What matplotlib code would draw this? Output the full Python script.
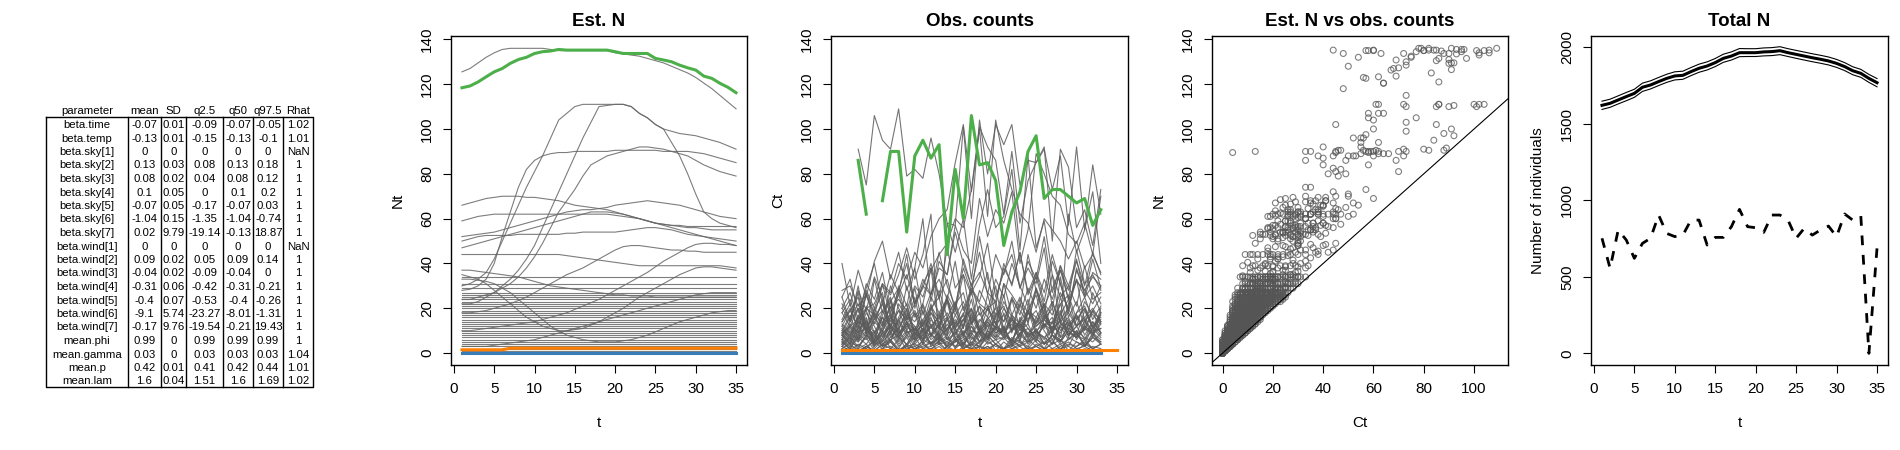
import numpy as np
import matplotlib
matplotlib.use('Agg')
import matplotlib.pyplot as plt

plt.rcParams['font.family'] = ['Liberation Sans', 'DejaVu Sans']
nan = np.nan

# ---- parameter table ----
params = ['beta.time', 'beta.temp', 'beta.sky[1]', 'beta.sky[2]', 'beta.sky[3]', 'beta.sky[4]',
          'beta.sky[5]', 'beta.sky[6]', 'beta.sky[7]', 'beta.wind[1]', 'beta.wind[2]', 'beta.wind[3]',
          'beta.wind[4]', 'beta.wind[5]', 'beta.wind[6]', 'beta.wind[7]', 'mean.phi', 'mean.gamma',
          'mean.p', 'mean.lam']
p_mean = [-0.07, -0.13, 0, 0.13, 0.08, 0.1, -0.07, -1.04, 0.02, 0, 0.09, -0.04, -0.31, -0.4, -9.1, -0.17, 0.99, 0.03, 0.42, 1.6]
p_sd = [0.01, 0.01, 0, 0.03, 0.02, 0.05, 0.05, 0.15, 9.79, 0, 0.02, 0.02, 0.06, 0.07, 5.74, 9.76, 0, 0, 0.01, 0.04]
p_q025 = [-0.09, -0.15, 0, 0.08, 0.04, 0, -0.17, -1.35, -19.14, 0, 0.05, -0.09, -0.42, -0.53, -23.27, -19.54, 0.99, 0.03, 0.41, 1.51]
p_q50 = [-0.07, -0.13, 0, 0.13, 0.08, 0.1, -0.07, -1.04, -0.13, 0, 0.09, -0.04, -0.31, -0.4, -8.01, -0.21, 0.99, 0.03, 0.42, 1.6]
p_q975 = [-0.05, -0.1, 0, 0.18, 0.12, 0.2, 0.03, -0.74, 18.87, 0, 0.14, 0, -0.21, -0.26, -1.31, 19.43, 0.99, 0.03, 0.44, 1.69]
p_rhat = [1.02, 1.01, nan, 1, 1, 1, 1, 1, 1, nan, 1, 1, 1, 1, 1, 1, 1, 1.04, 1.01, 1.02]
tab_header = ['parameter', 'mean', 'SD', 'q2.5', 'q50', 'q97.5', 'Rhat']

# ---- site trajectories: estimated N (t=1..35) and observed counts C (t=1..33) ----
t_N = np.arange(1, 36)

green_N = [118.4, 119.2, 121, 123.3, 125.5, 127, 129.3, 131, 132, 133.7, 134.5, 134.8, 135.5, 135.2, 135.2, 135.2, 135.2, 135.2,
           135.2, 134.5, 133.7, 133.7, 133.7, 133.7, 131.5, 130.8, 130, 128.5, 127.3, 126.3, 123.6, 122.6, 120.4, 118.6, 116.2]
green_C = [nan, nan, 86, 62, nan, 68, 90, 90, 54, 88, 95, 87, 93, 44, 82, 60, 106, 84, 85, 77, 48, 63, 72, 90, 97, 69, 73, 73, 70, 67, 69, 57, 64]
blue_N = [0] * 35
blue_C = [0] * 33
orange_N = [1.5] * 6 + [2.2] * 29
orange_C = [1.2] * 35

curved_N = [
    [125.5, 127, 129.5, 132, 134, 135.5, 136, 136, 136, 136, 136, 135.5, 135, 135, 135, 135, 135, 135, 135, 134, 133.5, 133, 132.5, 131.5, 130.5, 129.5, 128, 126.5, 125, 123, 120.5, 118, 115, 112, 109],
    [30, 31, 33, 36, 42, 50, 58, 66, 74, 81, 88, 96, 104, 107, 110, 111, 111, 111, 111, 111, 111, 110, 107, 105, 102, 100, 94, 88, 80, 71, 63, 60, 58, 57, 56],
    [22, 22, 23, 25, 27, 30, 33, 37, 42, 48, 56, 64, 72, 80, 88, 96, 103, 110, 110.5, 111, 111, 110, 107, 105, 102, 100, 99, 98, 97.5, 97, 96, 95, 94, 92.5, 91],
    [28, 28.5, 30, 33, 40, 52, 63, 74, 82, 86, 88, 89, 89.5, 89.5, 90, 90, 90, 90, 90, 90.5, 90.5, 90.5, 90.5, 90.5, 90.5, 90, 90, 90, 90, 89.5, 89, 88, 87, 86, 85],
    [24, 24, 25, 26, 27, 29, 31, 34, 38, 43, 49, 56, 63, 68, 73, 79, 84, 86, 88, 89, 90, 91, 92, 92, 91.5, 91, 90, 89, 88, 86, 84, 82.5, 81, 80, 79],
    [66, 67, 68, 69, 69.5, 70, 70, 70, 69.5, 69.5, 69, 68.5, 68, 67, 66, 65.5, 65, 64.5, 64, 63, 62, 61, 60, 59, 58, 57.5, 57, 57, 56.5, 56.5, 56.5, 56.5, 56.5, 56.5, 56.5],
    [59, 60, 61, 61.5, 62, 62, 62, 62, 62, 62, 62, 62, 62, 62, 62, 62, 62, 62, 62, 61.5, 61, 60.5, 60, 59, 58, 57.5, 57, 56.5, 56, 56, 55.5, 55, 55, 55, 55],
    [52, 52.5, 53, 53.5, 54, 55, 56, 57, 58, 59, 60, 61, 62, 63, 63.5, 64, 64, 64.5, 65, 66, 66.5, 67, 67.5, 68, 67.5, 67, 66.5, 66, 65, 64, 63, 62, 61, 60.5, 60],
    [50, 51, 52, 52.5, 52.5, 52.5, 52.5, 53, 53, 53, 53, 53, 53, 53.5, 53.5, 54, 54, 54, 54, 54, 54.5, 55, 55.5, 56, 56, 55.5, 55, 54, 53, 52.5, 52, 51.5, 51, 50.5, 50],
    [47, 48, 49, 50, 51, 52, 53, 54, 55, 56, 57, 58, 59, 60, 61, 62, 63, 63, 63, 62.5, 62, 61, 60, 59, 58, 57, 56, 55, 54, 53, 52, 51, 50, 49, 48],
    [44, 44, 44, 44, 44, 44, 44, 44, 44, 44, 44, 44, 44, 43.5, 43, 42.5, 42, 41.5, 41, 40.5, 40, 39.5, 39, 39, 39, 39, 39, 39, 39, 39, 39, 39, 39, 38.5, 38],
    [37, 37, 36.5, 36, 35.5, 35, 34.5, 34, 33, 32, 31, 30, 29.5, 29, 28.5, 28, 27.5, 27, 26.5, 26, 26, 25.5, 25.5, 25.5, 25, 25, 25, 25, 25, 25, 25, 25, 25, 25, 25],
    [35, 34, 33, 31, 28, 25, 22, 19, 16, 14, 12, 11, 10, 10, 10.5, 11, 12.5, 14, 16, 18, 20, 22.5, 25, 27, 29, 31, 33, 35, 36.5, 38, 38.5, 38.5, 38, 37.5, 37],
    [18, 18, 18.5, 19, 20, 21, 22, 23.5, 25, 27, 29, 31, 33, 35, 36.5, 38, 40, 42, 44, 46, 47.5, 48, 48, 47.5, 47, 46.5, 46, 46, 45.5, 45.5, 45, 45, 45, 45, 45],
    [10, 10, 10.5, 11, 11.5, 12, 12.5, 13, 13.5, 14, 15, 16, 17, 18, 19.5, 21, 22.5, 24, 26, 28, 30, 32, 34, 36, 38.5, 41, 43, 45, 47, 48.5, 49, 49, 48.5, 48.5, 48],
    [33, 33, 32.5, 32, 31, 29, 27, 24, 21, 18, 15, 12, 10, 8, 7, 6, 5.5, 5, 5, 5, 5.5, 6, 7, 8, 9.5, 11, 12.5, 14, 15, 16, 17, 18, 18.5, 19, 19],
    [3, 3, 3, 3, 3.5, 4, 4.5, 5, 5.5, 6, 7, 8, 9, 10, 11, 12, 13, 14, 15, 16, 17, 18, 19, 20, 21, 22, 23, 24, 25, 26, 26.5, 27, 27, 27, 27],
]
curved_C = [
    [nan, nan, 91, 75, 106, 95, 91, 109, 79, 82, 78, 96, 80, 58, 57, 101, 60, 104, 80, 102, 93, 102, 75, 86, 85, 92, 50, 91, 83, 56, 64, 48, 73],
    [14, 19, 12, 20, 22, 31, 27, 40, 33, 45, 38, 52, 60, 64, 85, 102, 72, 100, 61, 104, 86, 73, 62, 58, 45, 60, 55, 50, 42, 50, 38, 44, 36],
    [9, 12, 15, 10, 18, 13, 20, 24, 19, 30, 25, 37, 44, 49, 60, 56, 73, 101, 92, 86, 62, 90, 58, 77, 85, 91, 73, 88, 57, 92, 55, 84, 62],
    [13, 9, 16, 20, 17, 30, 26, 35, 47, 33, 44, 62, 4, 58, 45, 60, 33, 57, 73, 56, 61, 82, 46, 88, 47, 59, 35, 13, 62, 45, 55, 72, 40],
    [10, 8, 14, 11, 6, 16, 12, 19, 15, 22, 30, 26, 38, 35, 57, 46, 40, 69, 52, 64, 58, 72, 40, 55, 89, 80, 70, 66, 53, 49, 58, 44, 70],
    [40, 21, 37, 25, 41, 50, 33, 45, 28, 38, 60, 23, 41, 35, 54, 40, 30, 45, 26, 44, 35, 50, 29, 38, 31, 47, 20, 39, 30, 42, 25, 36, 33],
    [25, 33, 18, 29, 40, 22, 35, 27, 44, 20, 31, 38, 24, 47, 29, 35, 26, 52, 33, 21, 40, 30, 45, 27, 36, 23, 41, 31, 19, 37, 28, 34, 30],
    [20, 27, 15, 31, 24, 36, 18, 28, 40, 22, 33, 26, 45, 30, 21, 38, 27, 34, 49, 25, 36, 44, 29, 41, 33, 52, 27, 39, 24, 46, 31, 35, 28],
    [22, 15, 28, 19, 34, 25, 12, 30, 21, 38, 17, 27, 33, 24, 41, 19, 29, 23, 36, 15, 31, 26, 20, 44, 28, 18, 35, 25, 30, 21, 39, 24, 27],
    [18, 24, 13, 28, 20, 31, 16, 26, 35, 22, 29, 40, 25, 33, 19, 42, 30, 36, 27, 23, 38, 31, 45, 26, 34, 21, 29, 37, 24, 32, 28, 22, 30],
    [20, 14, 27, 9, 33, 18, 24, 12, 30, 16, 22, 38, 11, 26, 19, 35, 14, 28, 21, 10, 31, 17, 25, 13, 29, 20, 8, 34, 16, 23, 12, 27, 18],
    [25, 14, 30, 11, 19, 27, 8, 22, 16, 29, 12, 20, 25, 9, 17, 23, 13, 21, 7, 18, 14, 24, 11, 19, 16, 22, 9, 15, 20, 12, 23, 17, 13],
    [28, 30, 21, 26, 15, 19, 12, 9, 13, 6, 8, 4, 7, 3, 5, 8, 4, 10, 7, 12, 9, 15, 11, 18, 14, 22, 17, 27, 20, 33, 25, 30, 22],
    [8, 12, 5, 14, 9, 16, 7, 11, 18, 10, 15, 20, 13, 24, 17, 11, 28, 22, 19, 33, 25, 40, 30, 21, 36, 27, 44, 31, 18, 38, 26, 42, 29],
    [4, 7, 3, 8, 5, 9, 2, 6, 10, 4, 8, 12, 7, 11, 15, 9, 13, 18, 10, 21, 14, 25, 17, 29, 20, 33, 24, 37, 28, 41, 30, 45, 35],
    [18, 12, 20, 9, 15, 22, 11, 14, 8, 12, 6, 9, 4, 5, 3, 4, 2, 3, 1, 4, 2, 3, 5, 2, 6, 4, 8, 5, 10, 7, 12, 9, 11],
    [1, 2, 0, 3, 1, 2, 3, 1, 4, 2, 3, 5, 4, 7, 3, 6, 9, 5, 8, 11, 7, 10, 13, 9, 12, 15, 11, 14, 18, 12, 16, 20, 14],
]

# sites whose estimated N stays flat
flat_levels = [34, 31, 29, 27, 26, 25, 24, 23, 22, 21, 20, 19, 18, 17, 16, 15, 14, 13, 12, 11, 10, 9, 8, 7, 6, 5, 4, 3, 2, 1]
flat_C = [
    [15, 22, 9, 27, 18, 12, 30, 20, 14, 25, 8, 19, 28, 16, 23, 11, 31, 17, 21, 13, 26, 10, 24, 18, 29, 15, 20, 7, 22, 33, 14, 19, 25],
    [14, 20, 11, 26, 17, 9, 23, 29, 15, 19, 12, 25, 18, 8, 22, 27, 13, 21, 16, 30, 10, 24, 19, 14, 28, 17, 11, 22, 26, 15, 20, 12, 18],
    [12, 19, 25, 8, 16, 22, 14, 27, 10, 18, 6, 21, 15, 24, 11, 17, 28, 9, 20, 13, 23, 16, 8, 19, 26, 12, 14, 22, 10, 18, 25, 15, 21],
    [9, 16, 22, 13, 7, 19, 25, 11, 17, 14, 21, 8, 18, 24, 12, 15, 20, 10, 26, 13, 17, 9, 22, 15, 19, 11, 23, 14, 8, 18, 21, 12, 16],
    [10, 17, 6, 21, 13, 24, 9, 15, 19, 7, 22, 12, 16, 25, 11, 18, 8, 14, 20, 23, 10, 16, 5, 19, 13, 21, 9, 17, 24, 12, 15, 7, 18],
    [8, 14, 20, 11, 5, 17, 23, 9, 13, 18, 10, 22, 6, 15, 19, 12, 24, 8, 16, 11, 20, 14, 7, 21, 13, 17, 9, 25, 12, 16, 10, 19, 14],
    [12, 7, 17, 10, 20, 14, 5, 16, 22, 9, 13, 18, 11, 23, 8, 15, 19, 12, 6, 17, 21, 10, 14, 24, 9, 16, 13, 19, 7, 15, 20, 11, 17],
    [11, 6, 15, 19, 9, 13, 21, 8, 16, 12, 4, 18, 14, 10, 22, 7, 17, 11, 15, 20, 9, 13, 6, 18, 12, 16, 23, 10, 14, 8, 19, 11, 15],
    [7, 13, 9, 18, 12, 5, 16, 10, 20, 8, 14, 11, 17, 6, 13, 21, 9, 15, 12, 7, 18, 10, 14, 19, 8, 12, 16, 5, 13, 17, 11, 9, 20],
    [6, 12, 9, 16, 4, 11, 18, 8, 14, 10, 19, 7, 13, 16, 5, 12, 20, 9, 15, 11, 8, 17, 13, 6, 14, 18, 10, 12, 16, 7, 11, 19, 9],
    [9, 5, 14, 11, 17, 7, 12, 19, 10, 6, 15, 8, 13, 18, 11, 4, 16, 9, 12, 14, 7, 17, 10, 13, 5, 15, 11, 18, 8, 12, 16, 9, 14],
    [6, 11, 8, 15, 4, 12, 17, 9, 13, 7, 10, 16, 5, 11, 14, 8, 18, 10, 6, 13, 9, 15, 12, 7, 16, 10, 4, 13, 11, 17, 8, 14, 9],
    [8, 4, 11, 14, 6, 10, 16, 7, 12, 9, 5, 15, 11, 8, 13, 17, 6, 10, 14, 9, 12, 4, 16, 11, 7, 13, 10, 15, 8, 12, 6, 14, 9],
    [8, 4, 12, 7, 14, 10, 5, 15, 9, 11, 6, 13, 8, 16, 10, 3, 12, 7, 14, 9, 11, 5, 15, 8, 10, 13, 6, 12, 9, 7, 14, 10, 11],
    [5, 10, 7, 13, 3, 9, 12, 6, 14, 8, 11, 4, 10, 15, 7, 9, 12, 5, 13, 8, 6, 11, 14, 7, 10, 4, 12, 9, 15, 6, 11, 8, 13],
    [4, 9, 6, 12, 8, 3, 11, 7, 14, 5, 10, 8, 13, 6, 9, 15, 4, 11, 7, 12, 9, 5, 13, 8, 10, 6, 14, 7, 11, 9, 4, 12, 8],
    [6, 3, 9, 11, 5, 8, 13, 7, 4, 10, 12, 6, 9, 3, 11, 8, 14, 5, 10, 7, 12, 4, 9, 11, 6, 13, 8, 5, 10, 7, 12, 9, 6],
    [4, 8, 6, 10, 3, 7, 12, 5, 9, 11, 4, 8, 6, 13, 7, 3, 10, 9, 5, 12, 8, 6, 11, 4, 9, 7, 10, 5, 13, 8, 6, 11, 7],
    [5, 2, 8, 6, 10, 4, 7, 11, 3, 9, 6, 12, 5, 8, 2, 10, 7, 4, 9, 6, 11, 3, 8, 5, 10, 7, 4, 12, 6, 9, 3, 8, 5],
    [3, 7, 5, 9, 2, 6, 10, 4, 8, 6, 11, 3, 7, 5, 9, 4, 8, 2, 10, 6, 7, 3, 9, 5, 11, 4, 8, 6, 3, 10, 7, 5, 9],
    [5, 2, 7, 4, 9, 3, 6, 8, 1, 5, 10, 4, 7, 3, 6, 9, 2, 5, 8, 4, 7, 6, 3, 9, 5, 2, 8, 4, 6, 10, 3, 7, 5],
    [3, 6, 2, 8, 4, 5, 9, 3, 7, 1, 6, 4, 8, 2, 5, 7, 3, 9, 4, 6, 2, 7, 5, 3, 8, 4, 6, 1, 7, 5, 3, 9, 4],
    [2, 5, 3, 7, 1, 4, 6, 2, 8, 3, 5, 1, 6, 4, 7, 2, 5, 3, 8, 4, 1, 6, 3, 5, 7, 2, 4, 6, 1, 5, 3, 7, 4],
    [3, 1, 4, 2, 6, 3, 5, 1, 4, 7, 2, 3, 5, 1, 6, 2, 4, 3, 7, 1, 5, 2, 4, 6, 3, 1, 5, 2, 4, 3, 6, 2, 4],
    [2, 4, 1, 3, 5, 2, 6, 1, 3, 4, 2, 5, 0, 3, 6, 2, 4, 1, 5, 3, 2, 4, 6, 1, 3, 5, 2, 4, 0, 3, 5, 2, 4],
    [1, 3, 2, 4, 0, 2, 5, 1, 3, 2, 4, 1, 3, 0, 2, 5, 1, 3, 2, 4, 1, 2, 3, 0, 4, 2, 1, 3, 5, 2, 1, 3, 2],
    [1, 2, 0, 3, 1, 4, 2, 0, 2, 3, 1, 2, 4, 1, 0, 3, 2, 1, 3, 0, 2, 4, 1, 2, 3, 1, 0, 2, 3, 1, 4, 2, 1],
    [0, 2, 1, 3, 1, 0, 2, 1, 3, 0, 1, 2, 0, 3, 1, 2, 0, 1, 3, 1, 0, 2, 1, 3, 0, 1, 2, 1, 0, 2, 3, 1, 0],
    [0, 1, 1, 2, 0, 1, 0, 2, 1, 0, 1, 2, 0, 1, 1, 0, 2, 1, 0, 1, 2, 0, 1, 0, 1, 2, 1, 0, 1, 0, 2, 1, 1],
    [0, 1, 0, 0, 1, 0, 1, 0, 0, 1, 0, 1, 0, 0, 1, 0, 0, 1, 0, 1, 0, 0, 1, 0, 1, 0, 0, 1, 0, 0, 1, 0, 0],
]

# ---- totals ----
tot_mean = [1621, 1634, 1656, 1678, 1699, 1739, 1754, 1776, 1797, 1813, 1817, 1841, 1863, 1878, 1900, 1928, 1943, 1965,
            1965, 1965, 1970, 1972, 1978, 1965, 1954, 1943, 1932, 1922, 1911, 1895, 1874, 1847, 1830, 1797, 1769]
tot_lo = [1594, 1608, 1630, 1651, 1673, 1712, 1728, 1750, 1771, 1787, 1791, 1815, 1837, 1852, 1874, 1902, 1917, 1939,
          1940, 1940, 1944, 1946, 1952, 1940, 1928, 1917, 1906, 1896, 1885, 1869, 1848, 1821, 1804, 1771, 1742]
tot_hi = [1648, 1661, 1683, 1705, 1726, 1766, 1781, 1803, 1824, 1840, 1844, 1868, 1890, 1905, 1927, 1955, 1970, 1992,
          1991, 1991, 1996, 1998, 2004, 1991, 1980, 1969, 1958, 1948, 1937, 1921, 1900, 1873, 1856, 1823, 1796]
tot_counts = [752, 556, 806, 741, 621, 719, 752, 904, 784, 763, 773, 871, 871, 708, 758, 758, 828, 941, 828, 821, 791,
              904, 904, 871, 752, 817, 773, 806, 832, 763, 911, 871, 898, 0, 686]

GREEN, ORANGE, BLUE = '#4daf4a', '#ff7f00', '#377eb8'


def pad35(c):
    c = list(c)
    return np.array(c + [nan] * (35 - len(c)), dtype=float)


gray_N = [np.array(n, dtype=float) for n in curved_N] + [np.full(35, lv, dtype=float) for lv in flat_levels]
gray_C = [pad35(c) for c in curved_C] + [pad35(c) for c in flat_C]
all_N = gray_N + [np.array(blue_N, float), np.array(orange_N, float), np.array(green_N, float)]
all_C = gray_C + [pad35(blue_C), pad35(orange_C), pad35(green_C)]

fig = plt.figure(figsize=(19, 4.5), dpi=100)


def px_axes(left, top, right, bottom):
    return fig.add_axes([left / 1900, 1 - bottom / 450, (right - left) / 1900, (bottom - top) / 450])


# table drawn in pixel coordinates
tab = fig.add_axes([0, 0, 1, 1])
tab.set_xlim(0, 1900)
tab.set_ylim(450, 0)
tab.axis('off')
edges = [46, 128, 161, 186, 223, 253, 283, 313]
top, bot = 117, 387
tab.plot([edges[0], edges[-1], edges[-1], edges[0], edges[0]], [top, top, bot, bot, top], color='black', lw=1)
for e in edges[1:-1]:
    tab.plot([e, e], [top, bot], color='black', lw=1)


def fmt(v):
    return 'NaN' if np.isnan(v) else f'{v:g}'


cols = [params, [fmt(v) for v in p_mean], [fmt(v) for v in p_sd], [fmt(v) for v in p_q025],
        [fmt(v) for v in p_q50], [fmt(v) for v in p_q975], [fmt(v) for v in p_rhat]]
for j, head in enumerate(tab_header):
    cx = (edges[j] + edges[j + 1]) / 2
    tab.text(cx, 111, head, ha='center', va='center', fontsize=8.2)
    for i, val in enumerate(cols[j]):
        tab.text(cx, 125 + 13.5 * i, val, ha='center', va='center', fontsize=8.2)


def style(ax, xlim, ylim, xticks, yticks, title, xlabel, ylabel):
    ax.set_xlim(xlim)
    ax.set_ylim(ylim)
    ax.set_xticks(xticks)
    ax.set_yticks(yticks)
    ax.tick_params(direction='out', length=6, width=0.8, labelsize=11, pad=6)
    plt.setp(ax.get_yticklabels(), rotation=90, va='center')
    for s in ax.spines.values():
        s.set_linewidth(1)
    ax.set_title(title, fontsize=13.5, fontweight='bold', pad=7)
    ax.set_xlabel(xlabel, fontsize=11)
    ax.set_ylabel(ylabel, fontsize=11)
    ax.xaxis.set_label_coords(0.5, -58 / 329)
    ax.xaxis.label.set_va('center')
    ax.yaxis.set_label_coords(-53 / 296, 0.5)
    ax.yaxis.label.set_va('center')


ylimN = (-5.3, 141.5)
xlimT = (-0.36, 36.36)
tticks = np.arange(0, 36, 5)
nticks = np.arange(0, 141, 20)

# Est. N
ax1 = px_axes(451, 36, 747, 365)
for n in gray_N:
    ax1.plot(t_N, n, color='#666666', lw=0.8, alpha=0.85)
ax1.plot(t_N, blue_N, color=BLUE, lw=2.2)
ax1.plot(t_N, orange_N, color=ORANGE, lw=2.2)
ax1.plot(t_N, green_N, color=GREEN, lw=2.2)
style(ax1, xlimT, ylimN, tticks, nticks, 'Est. N', 't', 'Nt')

# Obs. counts
ax2 = px_axes(831, 36, 1128, 365)
for c in gray_C:
    ax2.plot(t_N, c, color='#5c5c5c', lw=0.8, alpha=0.85)
ax2.plot(t_N, pad35(blue_C), color=BLUE, lw=2.2)
ax2.plot(t_N, pad35(orange_C), color=ORANGE, lw=2.2)
ax2.plot(t_N, pad35(green_C), color=GREEN, lw=2.2)
style(ax2, xlimT, ylimN, tticks, nticks, 'Obs. counts', 't', 'Ct')

# Est. N vs obs. counts
ax3 = px_axes(1212, 36, 1508, 365)
cx = np.concatenate(all_C)
ny = np.concatenate(all_N)
ok = ~np.isnan(cx)
ax3.scatter(cx[ok], ny[ok], s=18, facecolors='none', edgecolors='#555555', linewidths=0.8, alpha=0.75)
ax3.axline((0, 0), slope=1, color='black', lw=0.8)
style(ax3, (-4.2, 113.5), ylimN, np.arange(0, 101, 20), nticks, 'Est. N vs obs. counts', 'Ct', 'Nt')

# Total N
ax4 = px_axes(1591, 36, 1888, 365)
ax4.plot(t_N, tot_mean, color='black', lw=2.2)
ax4.plot(t_N, tot_lo, color='black', lw=0.8)
ax4.plot(t_N, tot_hi, color='black', lw=0.8)
ax4.plot(t_N, tot_counts, color='black', lw=2, linestyle=(0, (3.5, 3.5)))
style(ax4, xlimT, (-76, 2074), tticks, np.arange(0, 2001, 500), 'Total N', 't', 'Number of individuals')

fig.savefig('out.png', dpi=100)
